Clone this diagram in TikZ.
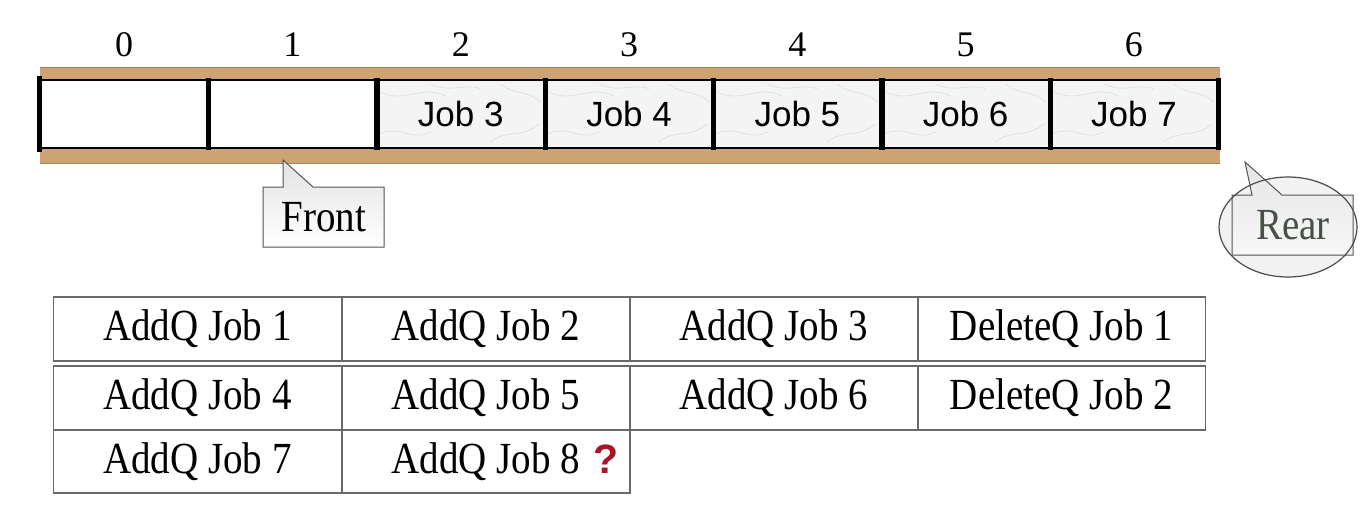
\documentclass[tikz,border=0pt]{standalone}
\usepackage{fontspec}
\setmainfont{Liberation Serif}
\newfontfamily\arialf{Liberation Sans}
\usetikzlibrary{shapes.geometric}
\definecolor{wood}{RGB}{205,163,115}
\definecolor{wooddark}{RGB}{172,132,88}
\definecolor{qred}{RGB}{168,22,38}
\definecolor{tblline}{RGB}{105,105,105}
\definecolor{reartxt}{RGB}{72,80,72}
\newcommand{\tallt}[1]{\scalebox{1}[1.14]{#1}}
\begin{document}
\begin{tikzpicture}[x=0.5pt,y=-0.5pt,
  idx/.style={font=\fontsize{18}{20}\selectfont},
  jobcell/.style={minimum width=84.15pt, minimum height=34pt, inner sep=0pt, fill=gray!9, font=\arialf\fontsize{17.5}{20}\selectfont},
  emptycell/.style={minimum width=84.15pt, minimum height=34pt, inner sep=0pt, fill=white},
  opcell/.style={draw=tblline, line width=0.7pt, minimum width=144pt, inner sep=0pt, font=\fontsize{19.5}{22}\selectfont},
  callout/.style={draw=gray!65!black, line width=0.5pt, top color=gray!22, bottom color=white},
  vein/.style={gray!40, line width=0.35pt, opacity=0.55},
  sep/.style={line width=2.6pt, black},
]
\useasboundingbox[fill=white] (0,0) rectangle (1368,516);
% wooden rails
\fill[wood] (40,67) rectangle (1220,80);
\fill[wood] (40,149) rectangle (1220,163);
\draw[wooddark, line width=0.4pt] (40,67) -- (1220,67) (40,163) -- (1220,163);
% cells
\node[emptycell] (c0) at (124.15,114) {};
\node[emptycell] (c1) at (292.45,114) {};
\node[jobcell] (c2) at (460.75,114) {Job 3};
\node[jobcell] (c3) at (629.05,114) {Job 4};
\node[jobcell] (c4) at (797.35,114) {Job 5};
\node[jobcell] (c5) at (965.65,114) {Job 6};
\node[jobcell] (c6) at (1133.95,114) {Job 7};
% marble veins
\foreach \i in {2,...,6}{
  \begin{scope}[shift={(c\i.center)}]
    \draw[vein] (-80,-22) .. controls (-55,-10) and (-40,-30) .. (-15,-18);
    \draw[vein] (-30,-30) .. controls (-10,-20) and (5,-32) .. (20,-25);
    \draw[vein] (40,-30) .. controls (55,-18) and (65,-25) .. (80,-12);
    \draw[vein] (-82,20) .. controls (-60,10) and (-50,28) .. (-30,18);
    \draw[vein] (30,28) .. controls (45,15) and (60,25) .. (78,10);
  \end{scope}
}
% black frame
\draw[black, line width=1pt] (c0.north west) -- (c6.north east) (c0.south west) -- (c6.south east);
\draw[sep] ([yshift=2pt]c0.north west) -- ([yshift=-2pt]c0.south west);
\foreach \i in {0,...,6}{
  \draw[sep] ([yshift=1pt]c\i.north east) -- ([yshift=-1pt]c\i.south east);
}
% indices
\node[idx] (i0) at (124.15,45) {0};
\node[idx] (i1) at (292.45,45) {1};
\node[idx] (i2) at (460.75,45) {2};
\node[idx] (i3) at (629.05,45) {3};
\node[idx] (i4) at (797.35,45) {4};
\node[idx] (i5) at (965.65,45) {5};
\node[idx] (i6) at (1133.95,45) {6};
% Front callout
\path[callout] (263,187) -- (283,187) -- (283,160) -- (313,187) -- (384,187) -- (384,247) -- (263,247) -- cycle;
\node[font=\fontsize{19.5}{22}\selectfont] (front) at (324,217) {\tallt{Front}};
% Rear callout
\fill[gray!10] (1288,227) ellipse [x radius=69, y radius=50];
\path[callout, top color=gray!20, bottom color=gray!6] (1232,195) -- (1252,195) -- (1245,162) -- (1282,195) -- (1353,195) -- (1353,255) -- (1232,255) -- cycle;
\draw[gray!60!black, line width=0.6pt] (1288,227) ellipse [x radius=69, y radius=50];
\node[font=\fontsize{19.5}{22}\selectfont, text=reartxt] (rear) at (1293,225) {\tallt{Rear}};
% operations table
\node[opcell, minimum height=32pt] (a1) at (197.5,329) {\tallt{AddQ Job 1}};
\node[opcell, minimum height=32pt] (a2) at (486,329) {\tallt{AddQ Job 2}};
\node[opcell, minimum height=32pt] (a3) at (774,329) {\tallt{AddQ Job 3}};
\node[opcell, minimum height=32pt] (d1) at (1061.5,329) {\tallt{DeleteQ Job 1}};
\node[opcell, minimum height=32pt] (a4) at (197.5,398) {\tallt{AddQ Job 4}};
\node[opcell, minimum height=32pt] (a5) at (486,398) {\tallt{AddQ Job 5}};
\node[opcell, minimum height=32pt] (a6) at (774,398) {\tallt{AddQ Job 6}};
\node[opcell, minimum height=32pt] (d2) at (1061.5,398) {\tallt{DeleteQ Job 2}};
\node[opcell, minimum height=31.5pt] (a7) at (197.5,461.5) {\tallt{AddQ Job 7}};
\node[opcell, minimum height=31.5pt] (a8) at (486,461.5) {\tallt{AddQ Job 8}};
\node[font=\arialf\bfseries\fontsize{20.5}{22}\selectfont, text=qred] (q) at (606,459) {?};
\end{tikzpicture}
\end{document}
